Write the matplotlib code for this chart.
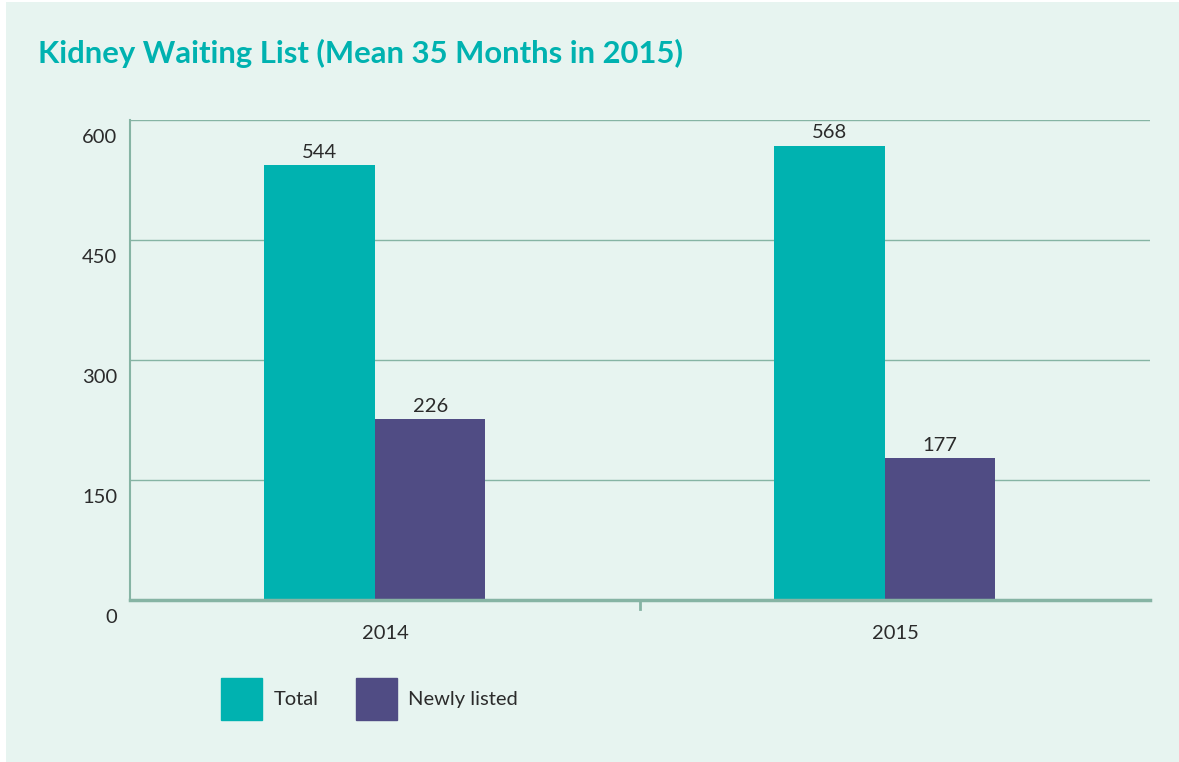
import matplotlib.pyplot as plt
from matplotlib.patches import Rectangle, Patch
import matplotlib.transforms as mtransforms
import numpy as np

# Data
years = ['2014', '2015']
total = [544, 568]
newly_listed = [226, 177]
y_ticks = [0, 150, 300, 450, 600]

teal = '#00B2B0'
purple = '#504C84'
bg = '#E7F4F0'
line_col = '#86B4A4'
text_col = '#2B2B2B'

plt.rcParams['font.family'] = ['Lato', 'DejaVu Sans']

fig = plt.figure(figsize=(11.79, 7.62), dpi=100, facecolor='white')
fig.patches.append(Rectangle((6 / 1179, 0), 1, 1 - 2 / 762, transform=fig.transFigure,
                             facecolor=bg, edgecolor='none', zorder=-10))

ax = fig.add_axes([130 / 1179, 1 - 600 / 762, 1020 / 1179, 480 / 762])
ax.set_facecolor(bg)
ax.patch.set_alpha(0)

x = np.arange(len(years))
w = 0.217
b1 = ax.bar(x - w / 2 - 0.02, total, w, color=teal, zorder=3)
b2 = ax.bar(x + w / 2 - 0.02, newly_listed, w, color=purple, zorder=3)

for bars in (b1, b2):
    for bar in bars:
        ax.annotate(str(int(bar.get_height())),
                    (bar.get_x() + bar.get_width() / 2, bar.get_height()),
                    xytext=(0, 3), textcoords='offset points',
                    ha='center', va='bottom', fontsize=14.5, color=text_col)

ax.set_xlim(-0.5, 1.5)
ax.set_ylim(0, 600)
ax.set_yticks(y_ticks)
ax.set_yticklabels([str(v) for v in y_ticks], fontsize=14.5, color=text_col)
ax.tick_params(axis='y', length=0, pad=9)
offset = mtransforms.ScaledTranslation(0, -16 / 100, fig.dpi_scale_trans)
for lbl in ax.get_yticklabels():
    lbl.set_transform(lbl.get_transform() + offset)

ax.set_xticks([])
for xi, yr in zip(x, years):
    ax.text(xi, -0.07, yr, transform=ax.get_xaxis_transform(), ha='center', va='center',
            fontsize=14.5, color=text_col)
# divider tick between the groups
ax.plot([0.5, 0.5], [0, -0.018], transform=ax.get_xaxis_transform(),
        color=line_col, lw=2, clip_on=False)

ax.grid(axis='y', color=line_col, lw=1, zorder=0)
for s in ('top', 'right'):
    ax.spines[s].set_visible(False)
ax.spines['left'].set_color(line_col)
ax.spines['left'].set_linewidth(1.5)
ax.spines['bottom'].set_color(line_col)
ax.spines['bottom'].set_linewidth(2.5)
ax.spines['bottom'].set_zorder(4)

fig.text(38 / 1179, 1 - 53 / 762, 'Kidney Waiting List (Mean 35 Months in 2015)',
         fontsize=22.3, fontweight='bold', color=teal, ha='left', va='center')

handles = [Patch(color=teal, label='Total'), Patch(color=purple, label='Newly listed')]
fig.legend(handles=handles, loc='center left', bbox_to_anchor=(203 / 1179, 1 - 699 / 762),
           ncol=2, frameon=False, fontsize=14.5, handlelength=2.05, handleheight=2.85,
           handletextpad=0.55, columnspacing=1.85, labelcolor=text_col)

fig.savefig('out.png', dpi=100, facecolor=fig.get_facecolor())
